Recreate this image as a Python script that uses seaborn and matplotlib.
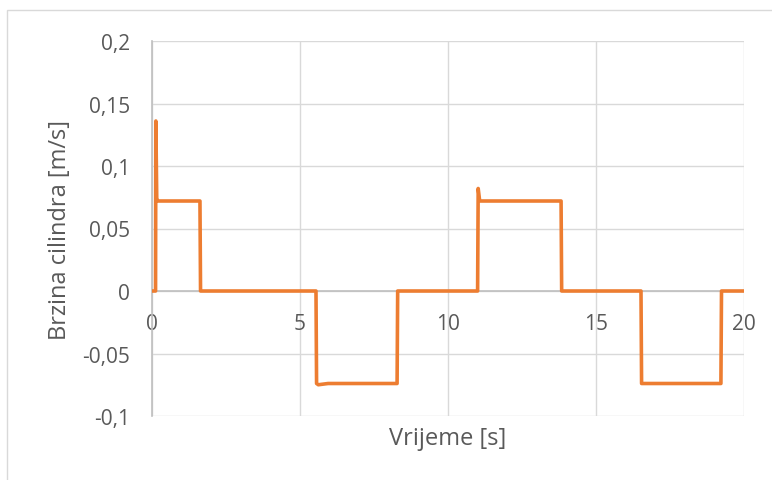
import numpy as np
import pandas as pd
import matplotlib.pyplot as plt
import seaborn as sns
from matplotlib.patches import Rectangle

sns.set_style('white')
plt.rcParams['font.family'] = ['Open Sans', 'DejaVu Sans']

# vrijeme [s] i brzina cilindra [m/s]
vrijeme = [0, 0.12, 0.13, 0.16, 0.2, 1.62, 1.64, 5.54, 5.56, 5.62, 5.95, 8.28, 8.3,
           11.0, 11.02, 11.07, 13.82, 13.84, 16.52, 16.54, 19.22, 19.24, 20]
brzina = [0, 0, 0.136, 0.074, 0.072, 0.072, 0, 0, -0.074, -0.075, -0.074, -0.074, 0,
          0, 0.082, 0.072, 0.072, 0, 0, -0.074, -0.074, 0, 0]
x_ticks = [0, 5, 10, 15, 20]
y_ticks = [-0.1, -0.05, 0, 0.05, 0.1, 0.15, 0.2]
y_labels = ['-0,1', '-0,05', '0', '0,05', '0,1', '0,15', '0,2']

df = pd.DataFrame({'t': vrijeme, 'v': brzina})

fig = plt.figure(figsize=(7.72, 4.81), dpi=100)
ax = fig.add_axes([152/772, 1 - 417/481, (744-152)/772, (417-42)/481])
fig.patches.append(Rectangle((7/772, -0.1), 1.2, 1 - 11/481 + 0.1, transform=fig.transFigure,
                             fill=False, edgecolor='#D9D9D9', linewidth=1))

sns.lineplot(data=df, x='t', y='v', sort=False, estimator=None, color='#ED7D31',
             linewidth=2.6, ax=ax, zorder=3)

ax.set_xlim(0, 20)
ax.set_ylim(-0.1, 0.2)
ax.set_xticks(x_ticks)
ax.set_xticklabels([str(x) for x in x_ticks])
ax.set_yticks(y_ticks)
ax.set_yticklabels(y_labels)
ax.grid(True, color='#D9D9D9', linewidth=1)
for s in ['top', 'right', 'bottom']:
    ax.spines[s].set_visible(False)
ax.spines['left'].set_color('#BFBFBF')
ax.spines['left'].set_linewidth(1.2)
ax.axhline(0, color='#BFBFBF', linewidth=1.2, zorder=2)
ax.tick_params(axis='x', length=0, pad=16, labelsize=15, labelcolor='#595959')
ax.tick_params(axis='y', length=0, pad=16, labelsize=15, labelcolor='#595959')
# oznake x osi uz nultu liniju
ax.spines['bottom'].set_position(('data', 0))
ax.set_xlabel('Vrijeme [s]', fontsize=17, color='#595959')
ax.set_ylabel('Brzina cilindra [m/s]', fontsize=17, color='#595959')
ax.xaxis.set_label_coords(0.5, -0.027)
ax.yaxis.set_label_coords(-0.135, 0.5)

fig.savefig('out.png', dpi=100, facecolor='white')
